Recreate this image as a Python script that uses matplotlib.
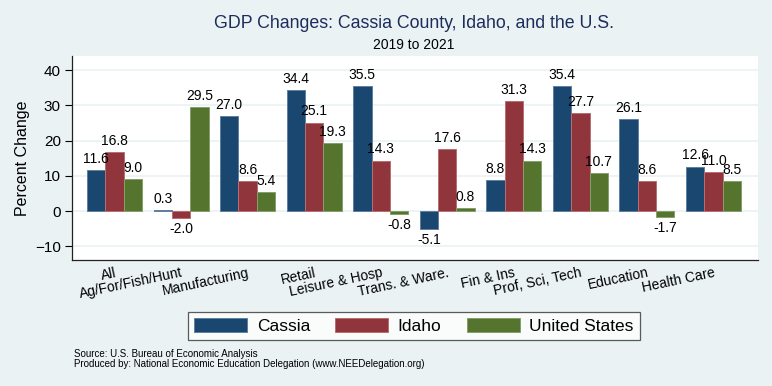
import numpy as np
import matplotlib
matplotlib.use("Agg")
import matplotlib.pyplot as plt

plt.rcParams['font.family'] = ['Liberation Sans', 'DejaVu Sans']

# data
industries = ["All", "Ag/For/Fish/Hunt", "Manufacturing", "Retail", "Leisure & Hosp",
              "Trans. & Ware.", "Fin & Ins", "Prof, Sci, Tech", "Education", "Health Care"]
cassia = [11.6, 0.3, 27.0, 34.4, 35.5, -5.1, 8.8, 35.4, 26.1, 12.6]
idaho = [16.8, -2.0, 8.6, 25.1, 14.3, 17.6, 31.3, 27.7, 8.6, 11.0]
usa = [9.0, 29.5, 5.4, 19.3, -0.8, 0.8, 14.3, 10.7, -1.7, 8.5]
series_names = ["Cassia", "Idaho", "United States"]

colors = ["#1A476F", "#90353B", "#55752F"]
edges = ["#5F7FA0", "#B86E73", "#86A06A"]
bg = "#EAF2F3"

fig = plt.figure(figsize=(7.72, 3.86), dpi=100, facecolor=bg)
ax = fig.add_axes([72/772, 1-260/386, 686/772, 204/386])
ax.set_facecolor("white")

x = np.arange(len(industries))
w = 0.2757
for i, (vals, nm) in enumerate(zip([cassia, idaho, usa], series_names)):
    bars = ax.bar(x + (i-1)*w, vals, w, color=colors[i], edgecolor=edges[i],
                  linewidth=0.7, label=nm, zorder=3)
    ax.bar_label(bars, fmt="%.1f", padding=3, fontsize=10, zorder=4)

ax.set_xlim(-0.639, 9.669)
ax.set_ylim(-13.9, 44)
ax.set_yticks([-10, 0, 10, 20, 30, 40])
ax.grid(axis="y", color=bg, linewidth=1.2, zorder=0)
ax.tick_params(axis="y", length=5, width=0.8, labelsize=11, pad=3)
ax.set_xticks(x)
ax.set_xticklabels(industries, rotation=12, ha="right", rotation_mode="anchor", fontsize=10)
ax.tick_params(axis="x", length=0, pad=4)
for s in ["top", "right"]:
    ax.spines[s].set_visible(False)
for s in ["left", "bottom"]:
    ax.spines[s].set_color("#222222")
    ax.spines[s].set_linewidth(0.9)

ax.set_ylabel("Percent Change", fontsize=11.5)
ax.yaxis.set_label_coords(-0.061, 0.5)

fig.text(414/772, 1-24/386, "GDP Changes: Cassia County, Idaho, and the U.S.",
         ha="center", va="center", fontsize=12.8, color="#1C2D5C")
fig.text(414/772, 1-45/386, "2019 to 2021", ha="center", va="center", fontsize=10)

leg = fig.legend(loc="center", bbox_to_anchor=(414/772, 1-326/386), ncol=3,
                 fontsize=12.5, frameon=True, fancybox=False, edgecolor="#333333",
                 handlelength=3.05, handleheight=0.84, handletextpad=0.55,
                 columnspacing=1.45, borderpad=0.35, borderaxespad=0)
leg.get_frame().set_linewidth(0.9)

fig.text(74/772, 1-354/386, "Source: U.S. Bureau of Economic Analysis",
         ha="left", va="center", fontsize=7)
fig.text(74/772, 1-364/386,
         "Produced by: National Economic Education Delegation (www.NEEDelegation.org)",
         ha="left", va="center", fontsize=7)

fig.savefig("out.png", dpi=100, facecolor=bg)
